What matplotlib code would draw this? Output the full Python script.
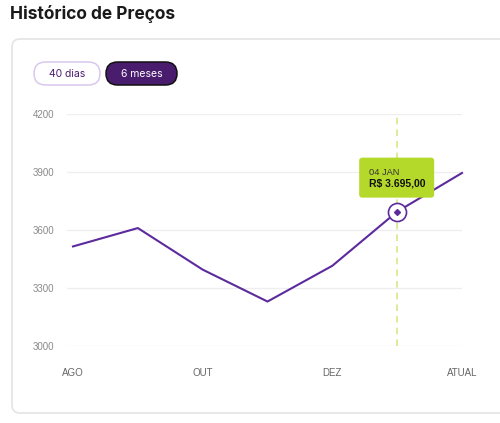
import matplotlib.pyplot as plt
from matplotlib.patches import FancyBboxPatch

# data
months = ["AGO", "SET", "OUT", "NOV", "DEZ", "JAN", "ATUAL"]
prices = [3515, 3610, 3395, 3230, 3415, 3695, 3895]
tick_months = ["AGO", "OUT", "DEZ", "ATUAL"]
y_ticks = [3000, 3300, 3600, 3900, 4200]
tip_idx = 5
tip_date = "04 JAN"
tip_label = "R$ 3.695,00"
buttons = ["40 dias", "6 meses"]

PURPLE = "#5c2a9d"
DARK = "#4a1c6e"
LIME = "#b5d92b"
GRAY = "#8a8a8a"
W, H = 500, 423

fig = plt.figure(figsize=(W / 100, H / 100), dpi=100)

# pixel-space background layer (origin top-left)
bg = fig.add_axes([0, 0, 1, 1], zorder=0)
bg.set_xlim(0, W)
bg.set_ylim(H, 0)
bg.axis("off")

bg.text(10, 14, "Histórico de Preços", fontsize=12.5, fontweight="bold",
        family="Inter", color="#1a1a1a", va="center", ha="left")

card = FancyBboxPatch((12, 39), 510, 374, boxstyle="round,pad=0,rounding_size=8",
                      fc="white", ec="#e4e4e4", lw=1.2)
bg.add_patch(card)

# period buttons
btn_x = [34, 106]
btn_w = [66, 71]
for i, label in enumerate(buttons):
    active = i == 1
    b = FancyBboxPatch((btn_x[i], 62), btn_w[i], 23,
                       boxstyle="round,pad=0,rounding_size=11.5",
                       fc=DARK if active else "white",
                       ec="#111111" if active else "#d9c8ee", lw=1.1)
    bg.add_patch(b)
    bg.text(btn_x[i] + btn_w[i] / 2, 74, label, fontsize=7.5, family="Inter",
            color="white" if active else DARK, ha="center", va="center")

# chart axes
ax = fig.add_axes([67 / W, (H - 346) / H, (462 - 67) / W, (346 - 114) / H], zorder=1)
ax.patch.set_alpha(0)
x = list(range(len(months)))
ax.plot(x, prices, color=PURPLE, lw=1.5, clip_on=False, zorder=3)
ax.set_xlim(-0.093, 6.0)
ax.set_ylim(3000, 4200)
ax.set_yticks(y_ticks)
ax.set_yticklabels([str(v) for v in y_ticks])
ax.set_xticks([months.index(m) for m in tick_months])
ax.set_xticklabels(tick_months)
ax.grid(axis="y", color="#eeeeee", lw=0.9)
ax.grid(axis="x", visible=False)
for s in ax.spines.values():
    s.set_visible(False)
ax.tick_params(axis="y", length=0, pad=9, labelsize=7, labelcolor=GRAY)
ax.tick_params(axis="x", length=0, pad=16, labelsize=7, labelcolor="#666666")
for lab in ax.get_xticklabels() + ax.get_yticklabels():
    lab.set_family("Liberation Sans")

# hover marker and dashed guide
ax.axvline(tip_idx, color="#d4ea86", lw=1.2, ls=(0, (4, 3)), zorder=2)
ax.plot(tip_idx, prices[tip_idx], "o", ms=13, mfc="white", mec=PURPLE, mew=1.2, zorder=4)
ax.plot(tip_idx, prices[tip_idx], "D", ms=3, color=PURPLE, zorder=5)

# tooltip in pixel space, anchored to the hovered point
px, py = ax.transData.transform((tip_idx, prices[tip_idx]))
py = H - py
ax_top = fig.add_axes([0, 0, 1, 1], zorder=2)
ax_top.set_xlim(0, W)
ax_top.set_ylim(H, 0)
ax_top.axis("off")
ax_top.add_patch(FancyBboxPatch((px - 38, py - 54), 75, 40,
                                boxstyle="round,pad=0,rounding_size=3",
                                fc=LIME, ec="none"))
ax_top.text(px - 28, py - 39, tip_date, fontsize=6.7, family="Liberation Sans",
            color="#333333", va="center")
ax_top.text(px - 28, py - 28, tip_label, fontsize=7.5, family="Liberation Sans",
            fontweight="bold", color="#111111", va="center")

fig.savefig("out.png", dpi=100)
